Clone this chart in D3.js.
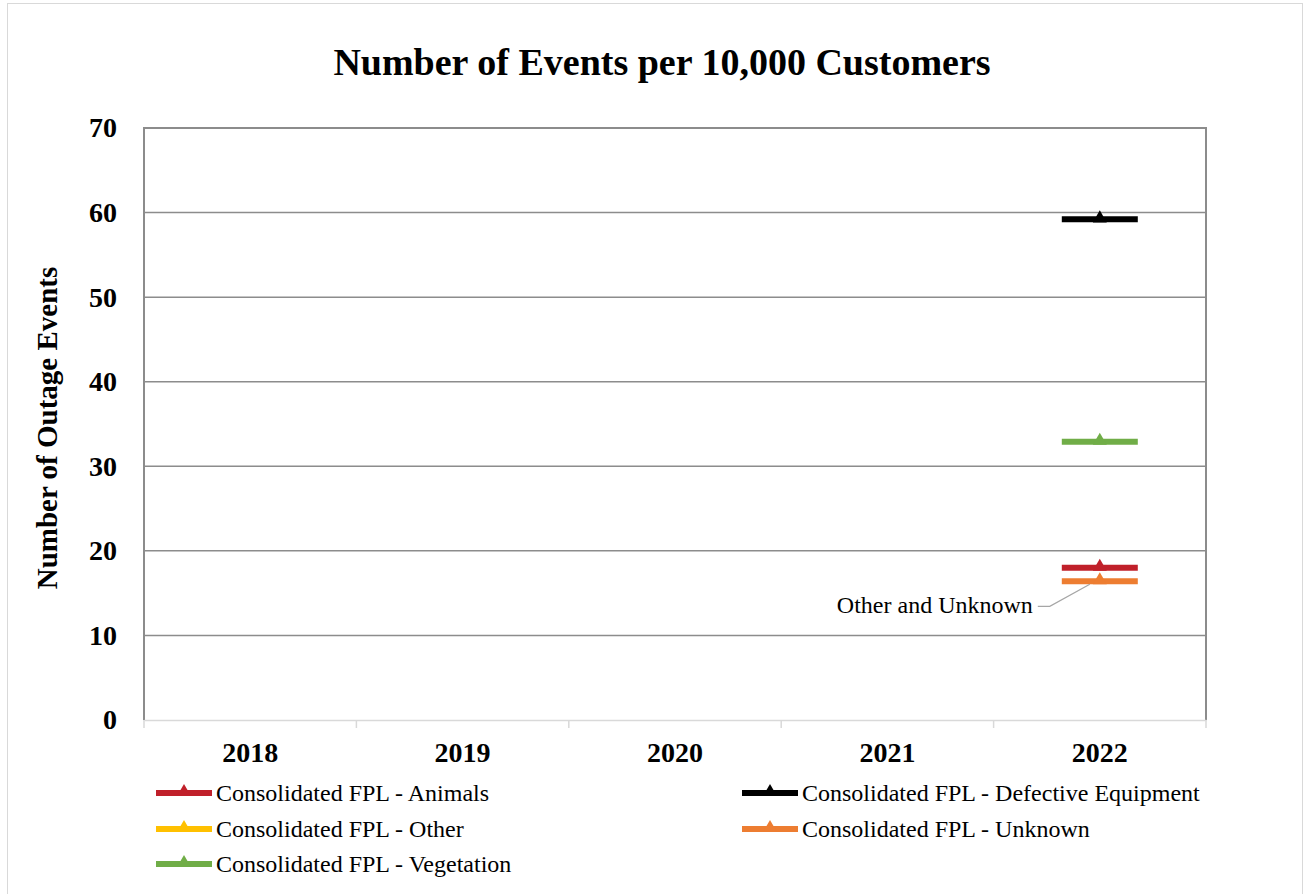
<!DOCTYPE html>
<html>
<head>
<meta charset="utf-8">
<script src="https://cdn.jsdelivr.net/npm/d3@7"></script>
<style>
  body { margin: 0; background: #fff; }
  svg { display: block; font-family: "Liberation Serif", "Times New Roman", serif; }
</style>
</head>
<body>
<div id="chart"></div>
<script>
// Data
const years = ['2018', '2019', '2020', '2021', '2022'];
const yTicks = [0, 10, 20, 30, 40, 50, 60, 70];

const animals = [null, null, null, null, 18.0];
const defectiveEquipment = [null, null, null, null, 59.2];
const other = [null, null, null, null, null];
const unknown = [null, null, null, null, 16.4];
const vegetation = [null, null, null, null, 32.9];

const series = [
  { name: 'Consolidated FPL - Animals', color: '#c0202a', values: animals },
  { name: 'Consolidated FPL - Defective Equipment', color: '#000000', values: defectiveEquipment },
  { name: 'Consolidated FPL - Other', color: '#ffc000', values: other },
  { name: 'Consolidated FPL - Unknown', color: '#ed7d31', values: unknown },
  { name: 'Consolidated FPL - Vegetation', color: '#70ad47', values: vegetation }
];

const W = 1305, H = 894;
const margin = { top: 128, right: 99, bottom: 174, left: 144 };
const width = W - margin.left - margin.right;
const height = H - margin.top - margin.bottom;

const svg = d3.select('#chart').append('svg')
  .attr('width', W)
  .attr('height', H);

// outer chart border
svg.append('rect')
  .attr('x', 7.5).attr('y', 3.5)
  .attr('width', 1295).attr('height', 900)
  .attr('fill', '#fff')
  .attr('stroke', '#d9d9d9');

// title
svg.append('text')
  .attr('x', 662).attr('y', 75)
  .attr('text-anchor', 'middle')
  .style('font-size', '38px').style('font-weight', 'bold')
  .text('Number of Events per 10,000 Customers');

const g = svg.append('g').attr('transform', `translate(${margin.left},${margin.top})`);

const x = d3.scaleBand().domain(years).range([0, width]);
const y = d3.scaleLinear().domain([0, 70]).range([height, 0]);

// gridlines
g.append('g')
  .selectAll('line')
  .data(yTicks.filter(d => d > 0))
  .join('line')
  .attr('x1', 0).attr('x2', width)
  .attr('y1', d => y(d)).attr('y2', d => y(d))
  .attr('stroke', '#8c8c8c').attr('stroke-width', 1.5);

// plot border: left, right, top
g.append('path')
  .attr('d', `M0,${height}V0H${width}V${height}`)
  .attr('fill', 'none')
  .attr('stroke', '#8c8c8c').attr('stroke-width', 2);

// y axis
const yAxis = g.append('g')
  .call(d3.axisLeft(y).tickValues(yTicks).tickSize(0).tickPadding(27));
yAxis.select('.domain').remove();
yAxis.selectAll('text')
  .style('font-family', '"Liberation Serif", serif')
  .style('font-size', '28px').style('font-weight', 'bold')
  .attr('fill', '#000');

// x axis
const xAxis = g.append('g')
  .attr('transform', `translate(0,${height})`)
  .call(d3.axisBottom(x).tickSize(0));
xAxis.select('.domain').attr('stroke', '#d9d9d9').attr('stroke-width', 1.5);
xAxis.selectAll('text')
  .attr('y', 42).attr('dy', 0)
  .style('font-family', '"Liberation Serif", serif')
  .style('font-size', '28px').style('font-weight', 'bold')
  .attr('fill', '#000');
// category boundary ticks
g.append('g')
  .selectAll('line')
  .data(years.map(d => x(d)).concat([width]))
  .join('line')
  .attr('x1', d => d).attr('x2', d => d)
  .attr('y1', height).attr('y2', height + 8)
  .attr('stroke', '#d9d9d9').attr('stroke-width', 1.5);

// y axis title
svg.append('text')
  .attr('transform', 'translate(57,428) rotate(-90)')
  .attr('text-anchor', 'middle')
  .style('font-size', '29px').style('font-weight', 'bold')
  .text('Number of Outage Events');

const tri = d3.symbol().type(d3.symbolTriangle).size(85);
const half = 38;

// series marks
series.forEach(s => {
  const pts = years.map((yr, i) => ({ yr, v: s.values[i] })).filter(d => d.v != null);
  const sg = g.append('g');
  sg.selectAll('line')
    .data(pts)
    .join('line')
    .attr('x1', d => x(d.yr) + x.bandwidth() / 2 - half)
    .attr('x2', d => x(d.yr) + x.bandwidth() / 2 + half)
    .attr('y1', d => y(d.v)).attr('y2', d => y(d.v))
    .attr('stroke', s.color).attr('stroke-width', 6);
  sg.selectAll('path')
    .data(pts)
    .join('path')
    .attr('d', tri)
    .attr('transform', d => `translate(${x(d.yr) + x.bandwidth() / 2},${y(d.v) - 1})`)
    .attr('fill', s.color);
});

// annotation for Other and Unknown
const ax = x('2022') + x.bandwidth() / 2 - 10;
const ay = y(unknown[4]) + 3;
g.append('path')
  .attr('d', `M${ax},${ay}L${ax - 40},${ay + 22}H${ax - 52}`)
  .attr('fill', 'none')
  .attr('stroke', '#a6a6a6').attr('stroke-width', 1.2);
g.append('text')
  .attr('x', ax - 57).attr('y', ay + 29)
  .attr('text-anchor', 'end')
  .style('font-size', '24px')
  .text('Other and Unknown');

// legend
const legendPos = [
  [156, 793], [742, 793],
  [156, 829], [742, 829],
  [156, 864]
];
const legend = svg.append('g');
const items = legend.selectAll('g')
  .data(series)
  .join('g')
  .attr('transform', (d, i) => `translate(${legendPos[i][0]},${legendPos[i][1]})`);
items.append('line')
  .attr('x1', 0).attr('x2', 56)
  .attr('stroke', d => d.color).attr('stroke-width', 6);
items.append('path')
  .attr('d', tri)
  .attr('transform', 'translate(28,-1)')
  .attr('fill', d => d.color);
items.append('text')
  .attr('x', 60).attr('y', 8)
  .style('font-size', '24px')
  .text(d => d.name);
</script>
</body>
</html>
